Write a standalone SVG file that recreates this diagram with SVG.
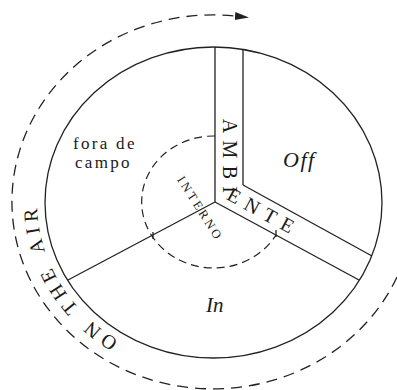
<svg xmlns="http://www.w3.org/2000/svg" xmlns:xlink="http://www.w3.org/1999/xlink" width="397" height="390" viewBox="0 0 397 390">
  <style>
    .ln { fill: none; stroke: #222; stroke-width: 1.3; }
    .dash-out { fill: none; stroke: #222; stroke-width: 1.3; stroke-dasharray: 11 7; }
    .dash-in { fill: none; stroke: #222; stroke-width: 1.2; stroke-dasharray: 8 5; }
    .serif { font-family: "Liberation Serif", "Times New Roman", serif; fill: #1a1a1a; }
    .it { font-style: italic; }
  </style>
  <defs>
    <marker id="arrow" markerUnits="userSpaceOnUse" markerWidth="16" markerHeight="10" refX="0" refY="4" orient="auto">
      <path d="M0,0 L14,4 L0,8 z" fill="#222"/>
    </marker>
    <path id="airPath" d="M 213,366 A 176,164 0 0 1 37,202 A 176,164 0 0 1 213,38"/>
    <path id="ambPath" d="M 222.9,110 L 222.9,197.4 L 360,272.8"/>
  </defs>

  <g id="connectors">
    <path id="on-air-arc" class="dash-out" d="M 397,277 A 201,187 0 1 1 235,16" marker-end="url(#arrow)"/>
    <path id="interno-arc" class="dash-in" d="M 215,136 A 72,66 0 1 0 276,235"/>
    <line class="ln" x1="153" y1="232" x2="153" y2="239"/>
    <line class="ln" x1="276" y1="230" x2="276" y2="237"/>
  </g>

  <g id="disc">
    <ellipse class="ln" cx="213.5" cy="202.5" rx="168.5" ry="155.5"/>
    <line class="ln" x1="215" y1="47" x2="215" y2="202"/>
    <line class="ln" x1="243" y1="49.4" x2="243" y2="185"/>
    <line class="ln" x1="215" y1="202" x2="68" y2="280"/>
    <line class="ln" x1="215" y1="202" x2="359" y2="280"/>
    <line class="ln" x1="243" y1="185" x2="372" y2="256"/>
  </g>

  <g id="fora-de-campo">
    <text class="serif" font-size="17" letter-spacing="2.3" x="73" y="149">fora de</text>
    <text class="serif" font-size="17" letter-spacing="2.3" x="75" y="168">campo</text>
  </g>

  <g id="off">
    <text class="serif it" font-size="22" letter-spacing="1.5" x="283" y="167">Off</text>
  </g>

  <g id="in">
    <text class="serif it" font-size="21" x="206" y="312">In</text>
  </g>

  <g id="ambiente">
    <text class="serif" font-size="20" letter-spacing="7.3"><textPath href="#ambPath" startOffset="8.8">AMBIENTE</textPath></text>
  </g>

  <g id="interno">
    <text class="serif" font-size="12.5" letter-spacing="2.8" text-anchor="middle" transform="translate(199.5,207.5) rotate(57.5)" x="1.4" y="4.2">INTERNO</text>
  </g>

  <g id="on-the-air">
    <text class="serif" font-size="20" letter-spacing="5" word-spacing="3"><textPath href="#airPath" startOffset="99">ON THE AIR</textPath></text>
  </g>
</svg>
